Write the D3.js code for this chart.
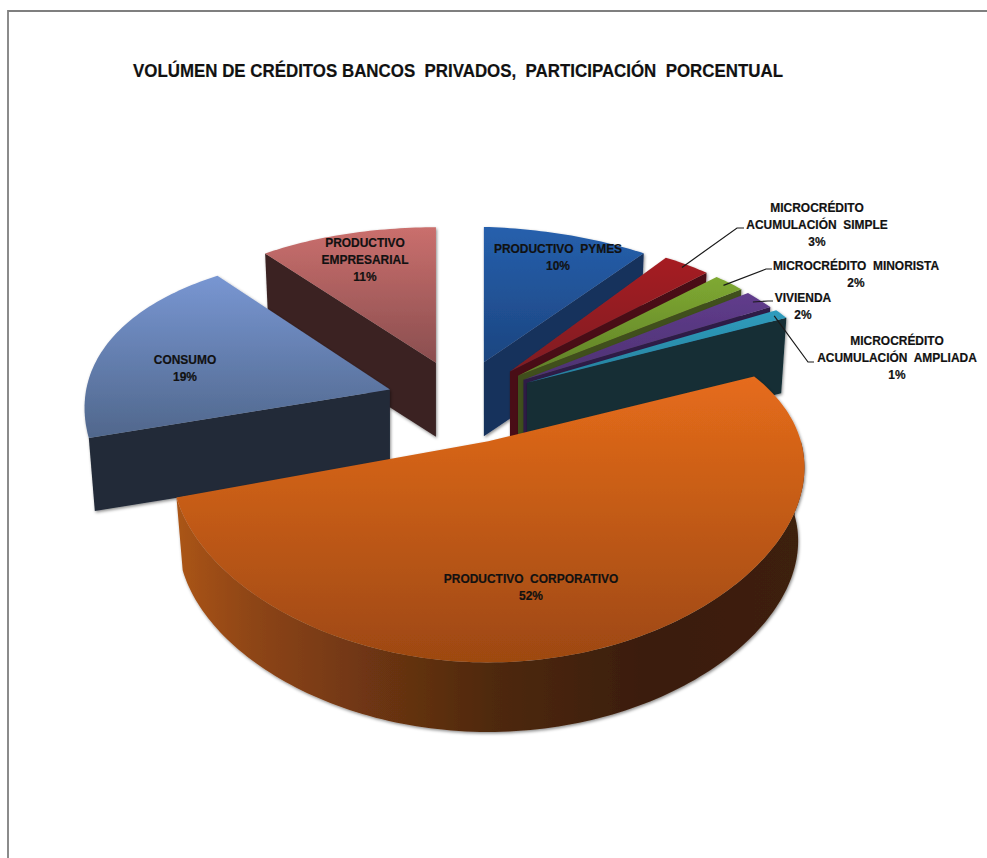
<!DOCTYPE html>
<html lang="es">
<head>
<meta charset="utf-8">
<title>Volumen de créditos bancos privados</title>
<script src="https://cdn.jsdelivr.net/npm/d3@7/dist/d3.min.js"></script>
<style>
  html, body { margin: 0; padding: 0; background: #fff; }
  svg { display: block; }
  text { font-family: "Liberation Sans", Arial, sans-serif; font-weight: bold; fill: #111; stroke: #111; stroke-width: 0.2; }
</style>
</head>
<body>
<svg id="chart" width="987" height="858"></svg>
<script>
// Loan portfolio shares, clockwise from twelve o'clock
const categories = [
  ["PRODUCTIVO  PYMES"],
  ["MICROCRÉDITO", "ACUMULACIÓN  SIMPLE"],
  ["MICROCRÉDITO  MINORISTA"],
  ["VIVIENDA"],
  ["MICROCRÉDITO", "ACUMULACIÓN  AMPLIADA"],
  ["PRODUCTIVO  CORPORATIVO"],
  ["CONSUMO"],
  ["PRODUCTIVO", "EMPRESARIAL"]
];
const shares = [10, 3, 2, 2, 1, 52, 19, 11];
const chartTitle = "VOLÚMEN DE CRÉDITOS BANCOS  PRIVADOS,  PARTICIPACIÓN  PORCENTUAL";

// Face colours per slice: top gradient [upper, lower] and side wall
const topColors = [
  ["#2660ad", "#1c4580"], ["#a61f24", "#7f1d20"], ["#7fa931", "#5f8029"], ["#603c8c", "#4d3272"],
  ["#2f9cbd", "#25809c"], ["#e66c1b", "#9d4811"], ["#7896d2", "#50678c"], ["#ca6f6d", "#8a4e4f"]
];
const wallColors = ["#16305c", "#4a1013", "#3f4f1e", "#2d1b47", "#122e36", "#3c1f0b", "#212938", "#3a2424"];

// Projection of the tilted disc
const centre = { x: 461, y: 400 };
const explode = { x: 74, y: 38 };
const radiusX = 305, radiusY = 168, perspX = 0.15, perspY = 0.24;
const depth = 74, baseShrink = 0.98;
// Per-slice refinements: horizontal size factor, extra drop and sideways tilt of the disc plane
const sliceWiden = [1, 0.975, 0.985, 0.99, 1, 1.025, 0.99, 0.98];
const sliceDrop = [-1.5, 0, 0, 0, 0, 6, 0, -1.5];
const sliceTilt = [0.03, 0, 0, 0, 0, 0, 0.025, 0];

// Label anchors and leader elbows, in page pixels
const labelAt = [[558, 253], [817, 212], [856, 270], [803, 302], [897, 345], [531, 583], [185, 364], [365, 247]];
const leaderElbow = [null, [737, 228, 744], [766, 269, 772], [768, 301, 773], [808, 362, 814], null, null, null];
const leaderReach = 0.97;
const labelLineStep = 17;
const labelStretch = 0.92;
const titleWidth = 650;

const svg = d3.select("#chart");
const defs = svg.append("defs");

const soft = defs.append("filter").attr("id", "soft")
  .attr("x", "-10%").attr("y", "-10%").attr("width", "120%").attr("height", "120%");
soft.append("feDropShadow").attr("dx", 1).attr("dy", 1.5).attr("stdDeviation", 1.6)
  .attr("flood-color", "#000").attr("flood-opacity", 0.45);

topColors.forEach((c, i) => {
  const g = defs.append("linearGradient").attr("id", "top" + i)
    .attr("x1", 0).attr("y1", 0).attr("x2", 0).attr("y2", 1);
  g.append("stop").attr("offset", 0).attr("stop-color", c[0]);
  g.append("stop").attr("offset", 1).attr("stop-color", c[1]);
});
const rimGrad = defs.append("linearGradient").attr("id", "rim")
  .attr("x1", 0).attr("y1", 0).attr("x2", 1).attr("y2", 0);
[[0, "#ab5517"], [0.12, "#8e4516"], [0.3, "#6f3612"], [0.5, "#4f290f"], [0.75, "#3a1d0a"], [1, "#3e200c"]]
  .forEach(s => rimGrad.append("stop").attr("offset", s[0]).attr("stop-color", s[1]));

// Page frame
svg.append("path").attr("d", "M8,858V11H987").attr("fill", "none")
  .attr("stroke", "#7f7f7f").attr("stroke-width", 1.8);

svg.append("text").attr("id", "title").attr("x", 133).attr("y", 77)
  .attr("font-size", 19).attr("textLength", titleWidth).attr("lengthAdjust", "spacingAndGlyphs")
  .style("white-space", "pre").text(chartTitle);

const arcs = d3.pie().sort(null).startAngle(0).endAngle(2 * Math.PI)(shares);

function origin(d) {
  const mid = (d.startAngle + d.endAngle) / 2;
  return {
    x: centre.x + explode.x * Math.sin(mid),
    y: centre.y - explode.y * Math.cos(mid) + sliceDrop[d.index]
  };
}
// Point on a slice's disc: angle a, fraction r of the radius, lowered by h
function point(d, a, r, h) {
  const o = origin(d), u = r * Math.sin(a), v = r * Math.cos(a);
  const k = h ? baseShrink : 1;
  const dx = k * sliceWiden[d.index] * radiusX * u / (1 + perspX * v);
  return [
    o.x + dx,
    o.y + h - k * radiusY * v / (1 + perspY * v) + sliceTilt[d.index] * dx
  ];
}
const angleRange = (a0, a1) => {
  const n = Math.max(2, Math.ceil((a1 - a0) / 0.02));
  return d3.range(n + 1).map(i => a0 + (a1 - a0) * i / n);
};
const closed = d3.line();

function wallPath(d, a) {
  return closed([point(d, a, 1, 0), point(d, a, 0, 0), point(d, a, 0, depth), point(d, a, 1, depth)]) + "Z";
}
function rimPath(d, a0, a1) {
  const as = angleRange(a0, a1);
  return closed(as.map(a => point(d, a, 1, 0)).concat(as.slice().reverse().map(a => point(d, a, 1, depth)))) + "Z";
}
function topPath(d) {
  return closed([point(d, 0, 0, 0)].concat(angleRange(d.startAngle, d.endAngle).map(a => point(d, a, 1, 0)))) + "Z";
}

// Painter's order: back slices first, the large front slice last
const order = [7, 0, 1, 2, 3, 4, 6, 5];
const slices = svg.append("g").selectAll("g").data(order.map(i => arcs[i])).join("g")
  .attr("filter", "url(#soft)");

slices.each(function (d) {
  const g = d3.select(this);
  // Only the slice crossing the front of the disc shows its curved rim
  if (d.startAngle < Math.PI && d.endAngle > Math.PI) {
    g.append("path").attr("d", rimPath(d, Math.max(d.startAngle, Math.PI / 2), Math.min(d.endAngle, 1.5 * Math.PI)))
      .attr("fill", "url(#rim)");
  }
  if (Math.sin(d.startAngle) < -1e-6) g.append("path").attr("d", wallPath(d, d.startAngle)).attr("fill", wallColors[d.index]);
  if (Math.sin(d.endAngle) > 1e-6) g.append("path").attr("d", wallPath(d, d.endAngle)).attr("fill", wallColors[d.index]);
  g.append("path").attr("d", topPath(d)).attr("fill", `url(#top${d.index})`);
});

// Leader lines for the thin microcredit and housing slices
svg.append("g").selectAll("path")
  .data(arcs.filter(d => leaderElbow[d.index])).join("path")
  .attr("fill", "none").attr("stroke", "#1a1a1a").attr("stroke-width", 1.2)
  .attr("d", d => {
    const mid = (d.startAngle + d.endAngle) / 2, e = leaderElbow[d.index];
    return d3.line()([point(d, mid, leaderReach, 0), [e[0], e[1]], [e[2], e[1]]]);
  });

// Category names with their percentage underneath, one text element per line,
// narrowed horizontally by a transform on each line
const labelLines = arcs.flatMap(d =>
  categories[d.index].concat(d3.format("d")(d.value) + "%").map((line, j) => ({ line, j, i: d.index })));
svg.append("g").attr("text-anchor", "middle").selectAll("text")
  .data(labelLines).join("text")
  .attr("font-size", 13).style("white-space", "pre")
  .attr("transform", l => `translate(${labelAt[l.i][0]},${labelAt[l.i][1] + l.j * labelLineStep}) scale(${labelStretch},1)`)
  .text(l => l.line);
</script>
</body>
</html>
